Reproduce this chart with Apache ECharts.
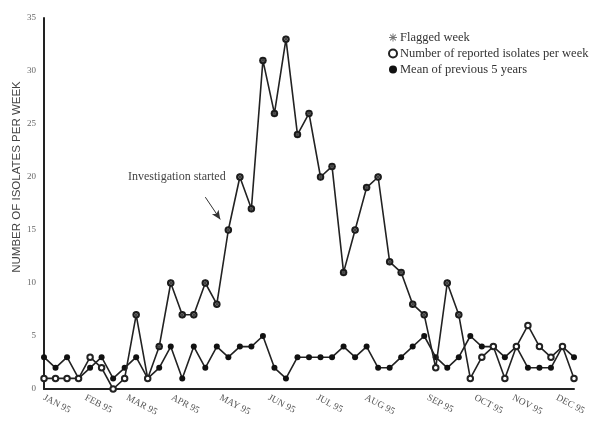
<!DOCTYPE html>
<html>
<head>
<meta charset="utf-8">
<script src="https://cdn.jsdelivr.net/npm/echarts@6/dist/echarts.min.js"></script>
<style>
html,body{margin:0;padding:0;background:#fff;}
#chart{width:592px;height:425px;}
</style>
</head>
<body>
<div id="chart"></div>
<script>
// Week index along the x axis (0..46)
const reported = [1,1,1,1,3,2,0,1,7,1,4,10,7,7,10,8,15,20,17,31,26,33,24,26,20,21,11,15,19,20,12,11,8,7,2,10,7,1,3,4,1,4,6,4,3,4,1];
const meanPrev = [3,2,3,1,2,3,1,2,3,1,2,4,1,4,2,4,3,4,4,5,2,1,3,3,3,3,4,3,4,2,2,3,4,5,3,2,3,5,4,4,3,4,2,2,2,4,3];
const flaggedWeeks = [8,10,11,12,13,14,15,16,17,18,19,20,21,22,23,24,25,26,27,28,29,30,31,32,33,35,36];
const monthNames = ['JAN 95','FEB 95','MAR 95','APR 95','MAY 95','JUN 95','JUL 95','AUG 95','SEP 95','OCT 95','NOV 95','DEC 95'];
const monthWeek = [0,3.6,7.2,11.1,15.3,19.5,23.7,27.9,33.3,37.4,40.7,44.5];
const yTicks = [0,5,10,15,20,25,30,35];

const asterisk = 'path://M4.4,0h1.2v3.5l2.5,-2.5l0.85,0.85l-2.5,2.5h3.5v1.2h-3.5l2.5,2.5l-0.85,0.85l-2.5,-2.5v3.5h-1.2v-3.5l-2.5,2.5l-0.85,-0.85l2.5,-2.5h-3.5v-1.2h3.5l-2.5,-2.5l0.85,-0.85l2.5,2.5z';

const chart = echarts.init(document.getElementById('chart'), null, {renderer:'canvas'});
const serif = 'Liberation Serif, DejaVu Serif, serif';
chart.setOption({
  animation:false,
  backgroundColor:'#fff',
  grid:{left:44,right:18,top:18,bottom:36,containLabel:false},
  legend:{
    orient:'vertical',left:383,top:26,itemGap:3,itemWidth:8,itemHeight:8,
    textStyle:{fontFamily:serif,fontSize:12.5,color:'#333',padding:[0,0,0,-2]},
    data:[
      {name:'Flagged week',icon:asterisk,itemStyle:{color:'#555'}},
      {name:'Number of reported isolates per week',icon:'emptyCircle'},
      {name:'Mean of previous 5 years',icon:'circle'}
    ]
  },
  xAxis:{
    type:'value',min:0,max:46,
    axisLine:{show:true,lineStyle:{color:'#222',width:2}},
    axisTick:{show:false},
    splitLine:{show:false},
    axisLabel:{
      customValues:monthWeek,
      rotate:-28,margin:8,
      fontFamily:serif,fontSize:9.5,color:'#555',
      formatter:function(v){const k=monthWeek.indexOf(v);return k>=0?monthNames[k]:'';}
    }
  },
  yAxis:{
    type:'value',min:0,max:35,interval:5,
    axisLine:{show:true,lineStyle:{color:'#222',width:2}},
    axisTick:{show:false},
    splitLine:{show:false},
    axisLabel:{fontFamily:serif,fontSize:9,color:'#666',margin:8,
      customValues:yTicks}
  },
  series:[
    {
      name:'Number of reported isolates per week',type:'line',
      data:reported.map((v,i)=>[i,v]),
      symbol:'emptyCircle',symbolSize:5.5,
      itemStyle:{color:'#222',borderWidth:1.3},
      lineStyle:{color:'#222',width:1.6},
      z:3,
      markLine:{
        silent:true,symbol:['none','arrow'],symbolSize:[6,9],
        lineStyle:{color:'#333',width:1,type:'solid'},
        label:{show:false},
        data:[[{coord:[14.0,18.1]},{coord:[15.3,16.0]}]]
      }
    },
    {
      name:'Mean of previous 5 years',type:'line',
      data:meanPrev.map((v,i)=>[i,v]),
      symbol:'circle',symbolSize:6,
      itemStyle:{color:'#111'},
      lineStyle:{color:'#222',width:1.6},
      z:2
    },
    {
      name:'Flagged week',type:'scatter',
      data:flaggedWeeks.map(i=>[i,reported[i]]),
      symbol:asterisk,symbolSize:7,
      itemStyle:{color:'#111'},
      z:4
    }
  ],
  graphic:[
    {type:'text',left:128,top:171,style:{text:'Investigation started',font:'12px '+serif,fill:'#444'}},
    {type:'text',x:17,y:177,rotation:Math.PI/2,style:{text:'NUMBER OF ISOLATES PER WEEK',font:'11.5px Liberation Sans, Arial, sans-serif',fill:'#444',align:'center',verticalAlign:'middle'}}
  ]
});
</script>
</body>
</html>
